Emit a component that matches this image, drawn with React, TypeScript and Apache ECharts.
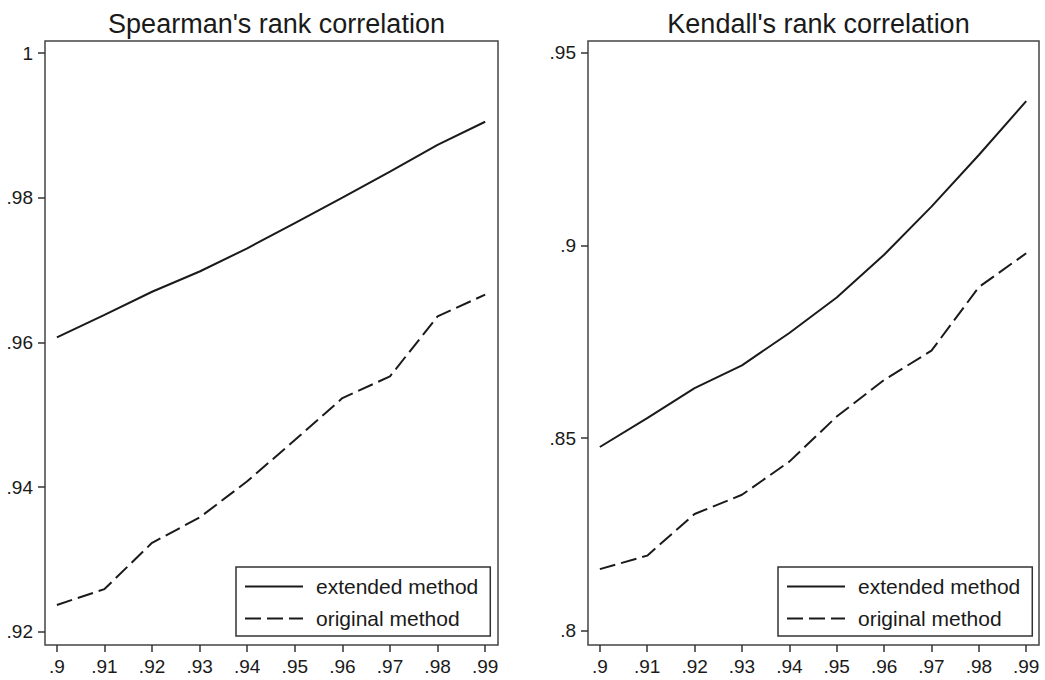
import React, { useEffect, useRef } from "react";
import * as echarts from "echarts";

const xValues = [0.9, 0.91, 0.92, 0.93, 0.94, 0.95, 0.96, 0.97, 0.98, 0.99];
const spearmanExtended = [0.9607, 0.9638, 0.967, 0.9698, 0.973, 0.9765, 0.98, 0.9836, 0.9873, 0.9905];
const spearmanOriginal = [0.9237, 0.9259, 0.9323, 0.9358, 0.9408, 0.9465, 0.9523, 0.9553, 0.9636, 0.9666];
const kendallExtended = [0.8477, 0.8552, 0.863, 0.8689, 0.8773, 0.8865, 0.8976, 0.9101, 0.9235, 0.9375];
const kendallOriginal = [0.816, 0.8195, 0.8303, 0.8353, 0.8439, 0.8556, 0.8651, 0.8727, 0.8892, 0.898];
const spearmanYTicks = [0.92, 0.94, 0.96, 0.98, 1];
const kendallYTicks = [0.8, 0.85, 0.9, 0.95];
const panelTitles = ["Spearman's rank correlation", "Kendall's rank correlation"];
const seriesNames = ["extended method", "original method"];

const fmt = (v: number) => String(Number(v.toFixed(2))).replace(/^0\./, ".");
const FONT = "Liberation Sans, Arial, sans-serif";
const INK = "#1a1a1a";

function pairs(vals: number[]) {
  return xValues.map((x, i) => [x, vals[i]]);
}

export default function App() {
  const ref = useRef<HTMLDivElement>(null);
  useEffect(() => {
    if (!ref.current) return;
    const chart = echarts.init(ref.current, null, { renderer: "svg" });
    const grids = [
      { left: 45, top: 41, width: 453, height: 604 },
      { left: 588, top: 41, width: 451, height: 604 },
    ];
    const xAxis = grids.map((_, i) => ({
      type: "value",
      gridIndex: i,
      min: 0.8975,
      max: 0.9927,
      axisLine: { show: false },
      splitLine: { show: false },
      axisTick: {
        show: true,
        customValues: xValues,
        length: 7,
        lineStyle: { color: "#333", width: 1.5 },
      },
      axisLabel: {
        customValues: xValues,
        formatter: (v: number) => fmt(v),
        fontSize: 19,
        fontFamily: FONT,
        color: INK,
        margin: 12,
      },
    }));
    const yAxis = [
      { min: 0.91817, max: 1.00166, ticks: spearmanYTicks },
      { min: 0.7963, max: 0.9531, ticks: kendallYTicks },
    ].map((a, i) => ({
      type: "value",
      gridIndex: i,
      min: a.min,
      max: a.max,
      axisLine: { show: false },
      splitLine: { show: false },
      axisTick: {
        show: true,
        customValues: a.ticks,
        length: 7,
        lineStyle: { color: "#333", width: 1.5 },
      },
      axisLabel: {
        customValues: a.ticks,
        formatter: (v: number) => fmt(v),
        fontSize: 19,
        fontFamily: FONT,
        color: INK,
        margin: 12,
      },
    }));
    const mk = (name: string, data: number[], idx: number, dashed: boolean) => ({
      type: "line",
      name,
      xAxisIndex: idx,
      yAxisIndex: idx,
      data: pairs(data),
      symbol: "none",
      lineStyle: { color: INK, width: 2, type: dashed ? [16, 6] : "solid" },
      itemStyle: { color: INK },
    });
    const legendCommon = {
      orient: "vertical",
      top: 567,
      padding: [9, 12, 7, 8],
      itemGap: 11,
      itemWidth: 58,
      itemHeight: 20,
      borderColor: "#333",
      borderWidth: 1.5,
      backgroundColor: "#fff",
      selectedMode: false,
      itemStyle: { opacity: 0 },
      textStyle: { fontSize: 21, fontFamily: FONT, color: INK, padding: [0, 0, 0, 8] },
      data: seriesNames,
    };
    chart.setOption({
      animation: false,
      backgroundColor: "#fff",
      title: panelTitles.map((t, i) => ({
        text: t,
        left: grids[i].left + grids[i].width / 2,
        top: 5,
        textAlign: "center",
        textStyle: { fontSize: 27, fontWeight: "normal", fontFamily: FONT, color: INK },
      })),
      grid: grids.map((g) => ({ ...g, show: true, borderColor: "#444", borderWidth: 1.5, containLabel: false })),
      legend: [
        { ...legendCommon, left: 236 },
        { ...legendCommon, left: 778 },
      ],
      xAxis,
      yAxis,
      series: [
        mk(seriesNames[0], spearmanExtended, 0, false),
        mk(seriesNames[1], spearmanOriginal, 0, true),
        mk(seriesNames[0], kendallExtended, 1, false),
        mk(seriesNames[1], kendallOriginal, 1, true),
      ],
    });
    return () => chart.dispose();
  }, []);
  return (
    <div
      ref={ref}
      style={{ position: "fixed", left: 0, top: 0, width: 1045, height: 680, background: "#fff" }}
    />
  );
}
